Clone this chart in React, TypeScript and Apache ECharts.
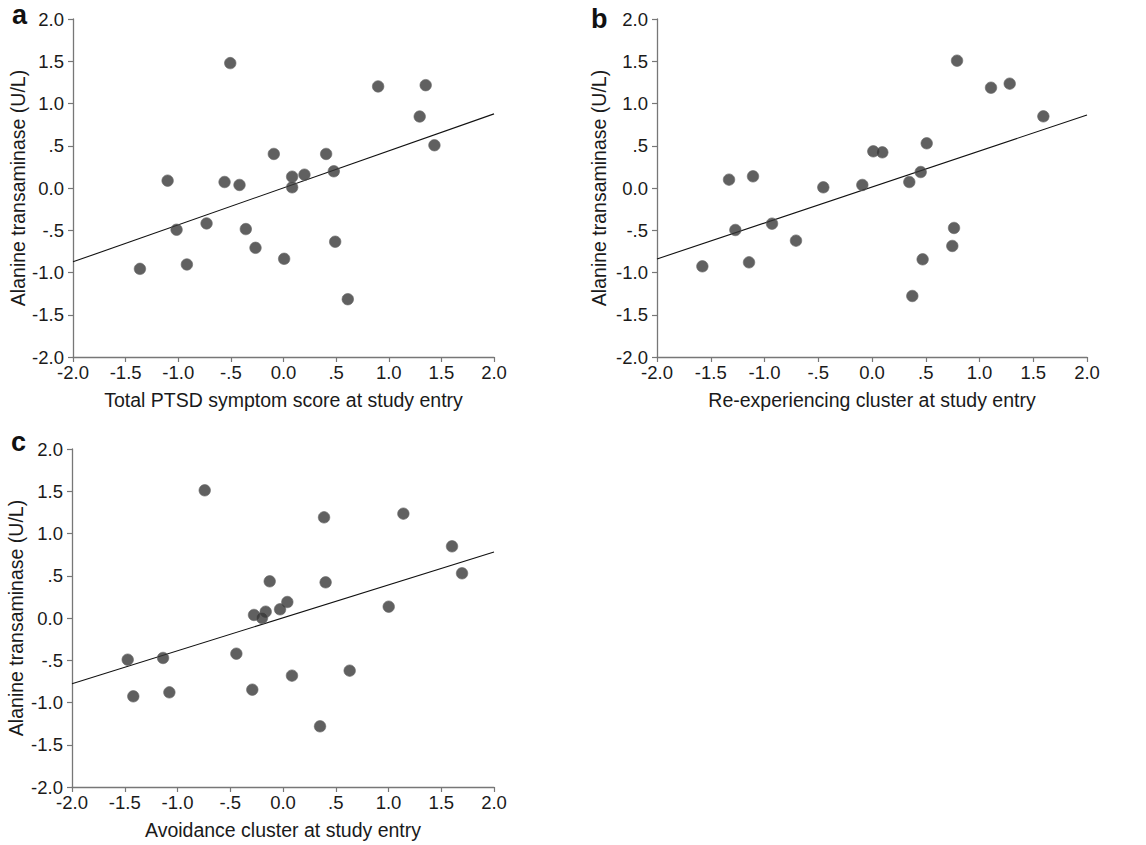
import React, { useEffect, useRef } from "react";
import * as echarts from "echarts";

const tickValues = [-2, -1.5, -1, -0.5, 0, 0.5, 1, 1.5, 2];
const tickLabels = ["-2.0", "-1.5", "-1.0", "-.5", "0.0", ".5", "1.0", "1.5", "2.0"];

const yAxisTitle = "Alanine transaminase (U/L)";
const panelLetters = ["a", "b", "c"];
const xAxisTitles = [
  "Total PTSD symptom score at study entry",
  "Re-experiencing cluster at study entry",
  "Avoidance cluster at study entry",
];

const pointsA: [number, number][] = [
  [-0.506, 1.478], [0.899, 1.202], [1.351, 1.217], [1.294, 0.846], [1.434, 0.506],
  [-0.092, 0.403], [0.405, 0.403], [0.478, 0.198], [0.199, 0.158], [0.082, 0.134],
  [0.082, 0.008], [-1.101, 0.087], [-0.56, 0.071], [-0.418, 0.036], [-1.016, -0.494],
  [-0.731, -0.419], [-0.358, -0.486], [-0.266, -0.708], [0.006, -0.838], [0.491, -0.636],
  [-1.364, -0.957], [-0.918, -0.905], [0.611, -1.316],
];
const pointsB: [number, number][] = [
  [0.791, 1.507], [1.107, 1.187], [1.281, 1.235], [1.594, 0.848], [0.509, 0.529],
  [0.012, 0.434], [0.096, 0.422], [0.453, 0.189], [0.347, 0.071], [-0.09, 0.036],
  [-0.453, 0.008], [-1.33, 0.099], [-1.107, 0.138], [-1.271, -0.497], [-0.93, -0.422],
  [-0.707, -0.623], [-1.578, -0.927], [-1.144, -0.88], [0.763, -0.473], [0.747, -0.686],
  [0.471, -0.844], [0.375, -1.278],
];
const pointsC: [number, number][] = [
  [-0.742, 1.511], [0.389, 1.191], [1.141, 1.235], [1.602, 0.848], [1.697, 0.529],
  [-0.126, 0.434], [0.404, 0.422], [0.041, 0.189], [-0.028, 0.103], [-0.164, 0.075],
  [-0.275, 0.036], [-0.199, 0.0], [1.002, 0.134], [-1.472, -0.493], [-1.137, -0.473],
  [-0.442, -0.422], [0.632, -0.623], [0.085, -0.682], [-1.419, -0.927], [-1.077, -0.88],
  [-0.291, -0.848], [0.351, -1.282],
];

const fitA: [number, number][] = [[-2, -0.874], [2, 0.877]];
const fitB: [number, number][] = [[-2, -0.84], [2, 0.864]];
const fitC: [number, number][] = [[-2, -0.777], [2, 0.781]];

const FONT = "'Liberation Sans', Arial, Helvetica, sans-serif";
const TEXT_COLOR = "#1a1a1a";
const AXIS_COLOR = "#777777";

function fmt(v: number) {
  const i = tickValues.findIndex((t) => Math.abs(t - v) < 1e-6);
  return i >= 0 ? tickLabels[i] : "";
}

export default function App() {
  const ref = useRef<HTMLDivElement>(null);

  useEffect(() => {
    if (!ref.current) return;
    const chart = echarts.init(ref.current, null, { renderer: "svg" });

    const grids = [
      { left: 73, top: 19, width: 421, height: 338 },
      { left: 657, top: 19, width: 430, height: 338 },
      { left: 72, top: 449, width: 422, height: 338 },
    ];
    const yNameGaps = [45, 48, 46];
    const data = [pointsA, pointsB, pointsC];
    const fits = [fitA, fitB, fitC];

    const axisCommon = {
      type: "value" as const,
      min: -2,
      max: 2,
      interval: 0.5,
      splitLine: { show: false },
      axisLine: { show: true, onZero: false, lineStyle: { color: AXIS_COLOR, width: 1.3 } },
      axisTick: { show: true, length: 5, lineStyle: { color: AXIS_COLOR, width: 1.2 } },
      nameLocation: "middle" as const,
      nameTextStyle: { fontFamily: FONT, fontSize: 19.5, color: TEXT_COLOR },
    };

    const xAxis = grids.map((_, i) => ({
      ...axisCommon,
      gridIndex: i,
      name: xAxisTitles[i],
      nameGap: 33,
      axisLabel: {
        formatter: fmt,
        fontFamily: FONT,
        fontSize: 18.5,
        color: TEXT_COLOR,
        margin: 6,
        showMinLabel: true,
        showMaxLabel: true,
      },
    }));
    const yAxis = grids.map((_, i) => ({
      ...axisCommon,
      gridIndex: i,
      name: yAxisTitle,
      nameGap: yNameGaps[i],
      axisLabel: {
        formatter: fmt,
        fontFamily: FONT,
        fontSize: 18.5,
        color: TEXT_COLOR,
        margin: 9,
        showMinLabel: true,
        showMaxLabel: true,
      },
    }));

    const series: any[] = [];
    grids.forEach((_, i) => {
      series.push({
        type: "line",
        xAxisIndex: i,
        yAxisIndex: i,
        data: fits[i],
        showSymbol: false,
        symbol: "none",
        lineStyle: { color: "#111", width: 1.1 },
        silent: true,
        z: 2,
      });
      series.push({
        type: "scatter",
        xAxisIndex: i,
        yAxisIndex: i,
        data: data[i],
        symbol: "circle",
        symbolSize: 11.5,
        itemStyle: { color: "#383838", borderColor: "#6a6a6a", borderWidth: 0.8 },
        z: 3,
      });
    });

    const letterPos = [
      { x: 12, y: 28 },
      { x: 591, y: 32 },
      { x: 11, y: 455 },
    ];

    chart.setOption({
      animation: false,
      backgroundColor: "#ffffff",
      grid: grids.map((g) => ({ ...g, containLabel: false })),
      xAxis,
      yAxis,
      series,
      graphic: panelLetters.map((t, i) => ({
        type: "text",
        x: letterPos[i].x,
        y: letterPos[i].y,
        style: {
          text: t,
          font: `bold 27px ${FONT}`,
          fill: "#111",
          textVerticalAlign: "bottom",
          verticalAlign: "bottom",
        },
      })),
    });

    return () => chart.dispose();
  }, []);

  return (
    <div
      ref={ref}
      style={{ position: "fixed", left: 0, top: 0, width: 1146, height: 845, background: "#fff" }}
    />
  );
}
